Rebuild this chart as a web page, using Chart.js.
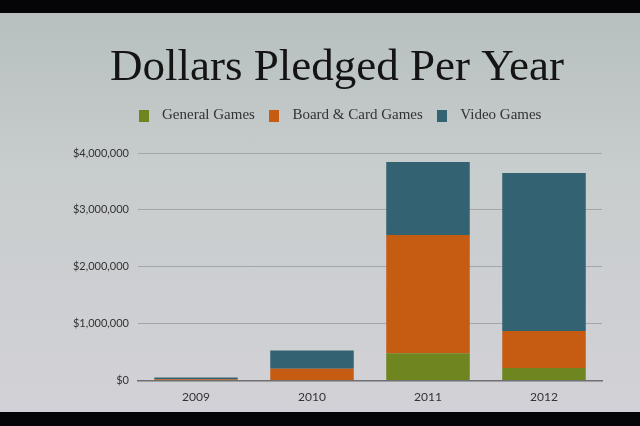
<!DOCTYPE html>
<html>
<head>
<meta charset="utf-8">
<script src="https://cdn.jsdelivr.net/npm/chart.js@4"></script>
<style>
  html, body { margin: 0; padding: 0; background: #050507; width: 640px; height: 426px; overflow: hidden; }
  #screen {
    position: absolute; left: 0; top: 13px; width: 640px; height: 399px;
    background: linear-gradient(180deg, #b7bfbf 0%, #c8cdcd 40%, #d2d1d7 100%);
  }
  canvas { display: block; }
</style>
</head>
<body>
<div id="screen"><canvas id="chart" width="640" height="399"></canvas></div>
<script>
// values (US dollars)
const years = ["2009", "2010", "2011", "2012"];
const generalGames = [10000, 10000, 480000, 220000];
const boardCardGames = [15000, 200000, 2080000, 650000];
const videoGames = [30000, 320000, 1280000, 2780000];
const yTicks = [0, 1000000, 2000000, 3000000, 4000000];

const serif = "'Liberation Serif', 'DejaVu Serif', serif";
const sans = "Lato, 'Open Sans', sans-serif";

// small square swatch for the legend
function swatch(color) {
    const c = document.createElement('canvas');
    c.width = 10;
    c.height = 12;
    const ctx = c.getContext('2d');
    ctx.fillStyle = color;
    ctx.fillRect(0, 0, 10, 12);
    return c;
}

// push the plot down a bit under the legend
const legendGap = {
    id: 'legendGap',
    afterInit(chart) {
        const fit = chart.legend.fit;
        chart.legend.fit = function() {
            fit.call(this);
            this.height += 20;
        };
    }
};

new Chart(document.getElementById('chart'), {
    type: 'bar',
    data: {
        labels: years,
        datasets: [
            { label: "General Games", data: generalGames, backgroundColor: "#6f8520" },
            { label: "Board & Card Games", data: boardCardGames, backgroundColor: "#c55c12" },
            { label: "Video Games", data: videoGames, backgroundColor: "#336373" }
        ]
    },
    plugins: [legendGap],
    options: {
        responsive: false,
        animation: false,
        layout: { padding: { left: 72, right: 38, top: 28, bottom: 7 } },
        datasets: { bar: { categoryPercentage: 1, barPercentage: 0.72 } },
        plugins: {
            title: {
                display: true,
                text: "Dollars Pledged Per Year",
                color: "#141414",
                font: { family: serif, size: 45, weight: 'normal' },
                padding: { top: 0, bottom: 5 }
            },
            legend: {
                display: true,
                labels: {
                    color: "#333",
                    font: { family: serif, size: 15 },
                    usePointStyle: true,
                    pointStyleWidth: 22,
                    boxHeight: 12,
                    padding: 8,
                    generateLabels: function(chart) {
                        return Chart.defaults.plugins.legend.labels.generateLabels(chart).map(item => {
                            item.pointStyle = swatch(item.fillStyle);
                            return item;
                        });
                    }
                }
            },
            tooltip: { enabled: false }
        },
        scales: {
            x: {
                stacked: true,
                grid: { display: false },
                border: { display: true, color: "#6d6f70", width: 1.5 },
                ticks: { color: "#333", font: { family: sans, size: 12 }, padding: 1 }
            },
            y: {
                stacked: true,
                min: 0,
                max: 4000000,
                afterBuildTicks: function(axis) {
                    axis.ticks = yTicks.map(v => ({ value: v }));
                },
                afterFit: function(axis) { axis.width = 66; },
                grid: { color: "#a3a6a6", drawTicks: false },
                border: { display: false },
                ticks: {
                    color: "#333",
                    font: { family: sans, size: 11 },
                    padding: 9,
                    callback: v => "$" + v.toLocaleString("en-US")
                }
            }
        }
    }
});
</script>
</body>
</html>
